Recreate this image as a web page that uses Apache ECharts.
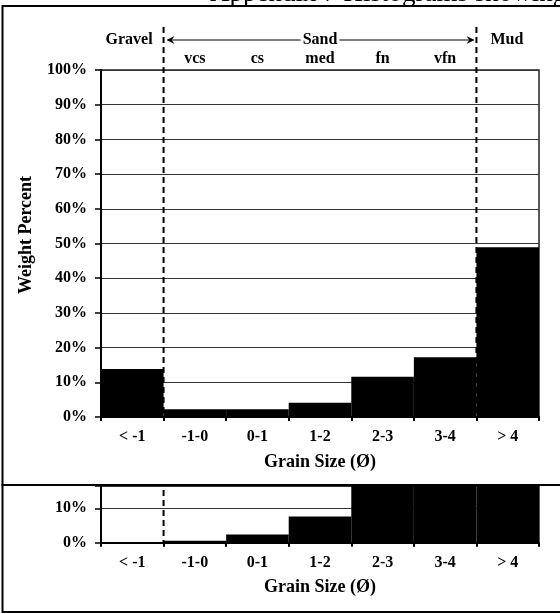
<!DOCTYPE html>
<html>
<head>
<meta charset="utf-8">
<script src="https://cdn.jsdelivr.net/npm/echarts@6/dist/echarts.min.js"></script>
<style>html,body{margin:0;padding:0;background:#fff;}#c{width:560px;height:614px;}</style>
</head>
<body>
<div id="c"></div>
<script>
// ---- data ----
const categories = ['< -1', '-1-0', '0-1', '1-2', '2-3', '3-4', '> 4'];
const sandClasses = ['', 'vcs', 'cs', 'med', 'fn', 'vfn', ''];
const upperValues = [13.8, 2.2, 2.2, 4.1, 11.6, 17.2, 48.9];
const lowerValues = [0.2, 0.6, 2.4, 7.6, 25, 30, 34.2];
const classNames = { gravel: 'Gravel', sand: 'Sand', mud: 'Mud' };
const titleText = 'Appendix 7 Histograms showing';
const xName = 'Grain Size (Ø)';
const yName = 'Weight Percent';

const FF = "'Liberation Serif', 'Times New Roman', serif";
const lab = { fontFamily: FF, fontWeight: 'bold', fontSize: 16, color: '#000' };

const chart = echarts.init(document.getElementById('c'), null, { renderer: 'canvas' });

function pctFmt(v) { return (Math.abs(v % 10) < 1e-6) ? v + '%' : ''; }

const baseX = (gi) => ({
  type: 'category', gridIndex: gi, data: categories, position: 'bottom',
  boundaryGap: true,
  axisLine: { show: true, lineStyle: { color: '#000', width: 2 } },
  axisTick: { show: true, length: 4, lineStyle: { color: '#000', width: 2 } },
  axisLabel: Object.assign({ margin: 12, interval: 0 }, lab),
  name: xName, nameLocation: 'middle', nameGap: 36,
  nameTextStyle: { fontFamily: FF, fontWeight: 'bold', fontSize: 18, color: '#000' }
});

const baseY = (gi, max) => ({
  type: 'value', gridIndex: gi, min: 0, max: max, interval: 10,
  axisLine: { show: true, lineStyle: { color: '#000', width: 2 } },
  axisTick: { show: true, length: 6, inside: false, lineStyle: { color: '#000', width: 1.5 } },
  axisLabel: Object.assign({ margin: 14, formatter: pctFmt }, lab),
  splitLine: { show: true, lineStyle: { color: '#333', width: 1 } }
});

const option = {
  backgroundColor: '#fff',
  animation: false,
  grid: [
    { left: 101, right: 21, top: 70, height: 347, show: true, borderColor: '#222', borderWidth: 1.5, backgroundColor: 'transparent' },
    { left: 101, right: 21, top: 486, height: 56.7, show: true, borderColor: '#222', borderWidth: 1.5, backgroundColor: 'transparent' }
  ],
  xAxis: [
    baseX(0),
    {
      type: 'category', gridIndex: 0, data: sandClasses, position: 'top',
      axisLine: { show: false }, axisTick: { show: false }, splitLine: { show: false },
      axisLabel: Object.assign({ margin: 3, interval: 0 }, lab)
    },
    baseX(1)
  ],
  yAxis: [baseY(0, 100), baseY(1, 16.5)],
  series: [
    { type: 'bar', xAxisIndex: 0, yAxisIndex: 0, data: upperValues, barCategoryGap: '0%', itemStyle: { color: '#000' }, z: 3 },
    { type: 'bar', xAxisIndex: 2, yAxisIndex: 1, data: lowerValues, barCategoryGap: '0%', itemStyle: { color: '#000' }, clip: true, z: 3 }
  ],
  graphic: [
    { id: 'title', type: 'text', z: -2, left: 210, top: -20,
      style: { text: titleText, x: 0, y: 0, font: "normal 27px " + FF, fill: '#000', textVerticalAlign: 'top' } },
    { id: 'white', type: 'rect', z: -1, shape: { x: 0, y: 6, width: 560, height: 608 }, style: { fill: '#fff' } },
    { id: 'frame1', type: 'rect', z: 20, shape: { x: 2.5, y: 6, width: 700, height: 479 }, style: { fill: 'none', stroke: '#000', lineWidth: 2 } },
    { id: 'frame2', type: 'rect', z: 20, shape: { x: 2.5, y: 485, width: 700, height: 127 }, style: { fill: 'none', stroke: '#000', lineWidth: 2 } },
    { id: 'yname1', type: 'text', z: 20, x: 26, y: 235, rotation: Math.PI / 2,
      style: { text: yName, font: "bold 18px " + FF, fill: '#000', textAlign: 'center', textVerticalAlign: 'middle' } }
  ]
};
chart.setOption(option);

// ---- annotations derived from the axes ----
function px(si, cat, val) { return chart.convertToPixel({ seriesIndex: si }, [cat, val]); }
const c0 = px(0, 0, 0), c1 = px(0, 1, 0), c5 = px(0, 5, 0), c6 = px(0, 6, 0);
const b1 = (c0[0] + c1[0]) / 2, b6 = (c5[0] + c6[0]) / 2;
const zeroTop = c0[1];
const zeroBot = px(1, 0, 0)[1];
const topTen = px(1, 0, 16.5)[1];

const ctx = document.createElement('canvas').getContext('2d');
ctx.font = "bold 16px " + FF;
const sandW = ctx.measureText(classNames.sand).width;
const ay = 40;
const sandMid = (b1 + b6) / 2;
const sL = sandMid - sandW / 2 - 2, sR = sandMid + sandW / 2 + 2;

const dash = { stroke: '#000', lineWidth: 2, lineDash: [6, 4] };
const annFont = "bold 16px " + FF;
chart.setOption({
  graphic: [
    { id: 'd1', type: 'line', z: 10, shape: { x1: b1, y1: 27, x2: b1, y2: zeroTop }, style: dash },
    { id: 'd2', type: 'line', z: 10, shape: { x1: b6, y1: 27, x2: b6, y2: zeroTop }, style: dash },
    { id: 'd3', type: 'line', z: 10, shape: { x1: b1, y1: topTen + 4, x2: b1, y2: zeroBot }, style: dash },
    { id: 'aL', type: 'line', z: 10, shape: { x1: b1 + 4, y1: ay, x2: sL, y2: ay }, style: { stroke: '#000', lineWidth: 1 } },
    { id: 'aR', type: 'line', z: 10, shape: { x1: sR, y1: ay, x2: b6 - 3, y2: ay }, style: { stroke: '#000', lineWidth: 1 } },
    { id: 'hL', type: 'polygon', z: 10, shape: { points: [[b1 + 3, ay], [b1 + 11, ay - 4], [b1 + 8, ay], [b1 + 11, ay + 4]] }, style: { fill: '#000' } },
    { id: 'hR', type: 'polygon', z: 10, shape: { points: [[b6 - 2, ay], [b6 - 10, ay - 4], [b6 - 7, ay], [b6 - 10, ay + 4]] }, style: { fill: '#000' } },
    { id: 'tS', type: 'text', z: 10, x: sandMid, y: ay, style: { text: classNames.sand, font: annFont, fill: '#000', textAlign: 'center', textVerticalAlign: 'middle' } },
    { id: 'tG', type: 'text', z: 10, x: b1 - 11, y: ay, style: { text: classNames.gravel, font: annFont, fill: '#000', textAlign: 'right', textVerticalAlign: 'middle' } },
    { id: 'tM', type: 'text', z: 10, x: b6 + 14, y: ay, style: { text: classNames.mud, font: annFont, fill: '#000', textAlign: 'left', textVerticalAlign: 'middle' } }
  ]
});
</script>
</body>
</html>
